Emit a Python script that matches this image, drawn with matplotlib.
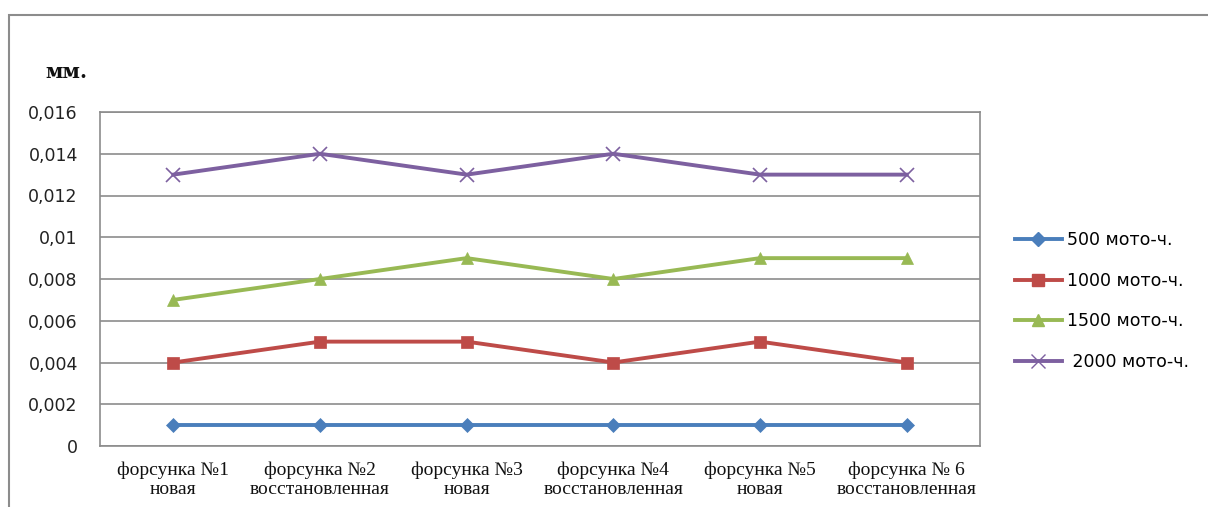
import matplotlib
matplotlib.use("Agg")
import matplotlib.pyplot as plt
from matplotlib.patches import Rectangle
from matplotlib.lines import Line2D

categories = [
    "форсунка №1\nновая",
    "форсунка №2\nвосстановленная",
    "форсунка №3\nновая",
    "форсунка №4\nвосстановленная",
    "форсунка №5\nновая",
    "форсунка № 6\nвосстановленная",
]
series_names = ["500 мото-ч.", "1000 мото-ч.", "1500 мото-ч.", " 2000 мото-ч."]
values_500 = [0.001, 0.001, 0.001, 0.001, 0.001, 0.001]
values_1000 = [0.004, 0.005, 0.005, 0.004, 0.005, 0.004]
values_1500 = [0.007, 0.008, 0.009, 0.008, 0.009, 0.009]
values_2000 = [0.013, 0.014, 0.013, 0.014, 0.013, 0.013]
y_ticks = [0, 0.002, 0.004, 0.006, 0.008, 0.01, 0.012, 0.014, 0.016]
y_tick_labels = ["0", "0,002", "0,004", "0,006", "0,008", "0,01", "0,012", "0,014", "0,016"]

colors = ["#4A7EBB", "#BE4B48", "#98B954", "#7D60A0"]
markers = ["D", "s", "^", "x"]
msizes = [7, 8, 8, 10]

W, H = 1208, 507
fig = plt.figure(figsize=(W / 100, H / 100), dpi=100)

# outer chart frame
fig.patches.append(Rectangle((9 / W, -0.1), 1.2, 1 - 15 / H + 0.1,
                             transform=fig.transFigure, fill=False,
                             edgecolor="#8c8c8c", linewidth=1.5))

ax = fig.add_axes([100 / W, 1 - 446 / H, 880 / W, 334 / H])
x = list(range(len(categories)))
series = [values_500, values_1000, values_1500, values_2000]
for vals, c, m, ms in zip(series, colors, markers, msizes):
    ax.plot(x, vals, color=c, linewidth=2.8, marker=m, markersize=ms,
            markeredgewidth=1.2 if m == "x" else 0.5, markeredgecolor=c,
            markerfacecolor=c, zorder=3)

ax.set_xlim(-0.5, len(categories) - 0.5)
ax.set_ylim(0, 0.016)
ax.set_yticks(y_ticks)
ax.set_yticklabels(y_tick_labels, fontfamily="DejaVu Sans", fontsize=12.5, color="#222222")
ax.set_xticks(x)
ax.set_xticklabels(categories, fontfamily="Liberation Serif", fontsize=14, color="#111111",
                   linespacing=1.2)
ax.tick_params(axis="y", length=0, pad=16)
ax.tick_params(axis="x", length=0, pad=11)
ax.grid(axis="y", color="#8c8c8c", linewidth=1.2)
ax.set_axisbelow(True)
for s in ax.spines.values():
    s.set_color("#8c8c8c")
    s.set_linewidth(1.2)

fig.text(45 / W, 1 - 72 / H, "мм.", fontfamily="DejaVu Serif", fontweight="bold",
         fontsize=14.5, va="center", ha="left", color="#111111")

handles = [Line2D([], [], color=c, marker=m, markersize=ms, linewidth=2.8,
                  markerfacecolor=c, markeredgecolor=c)
           for c, m, ms in zip(colors, markers, msizes)]
fig.legend(handles, series_names, loc="center left", bbox_to_anchor=(1015 / W, 1 - 301 / H),
           frameon=False, prop={"family": "DejaVu Sans", "size": 12.5},
           handlelength=2.7, handletextpad=0.3, labelspacing=1.3, borderpad=0,
           borderaxespad=0)

fig.savefig("out.png", dpi=100, facecolor="white")
